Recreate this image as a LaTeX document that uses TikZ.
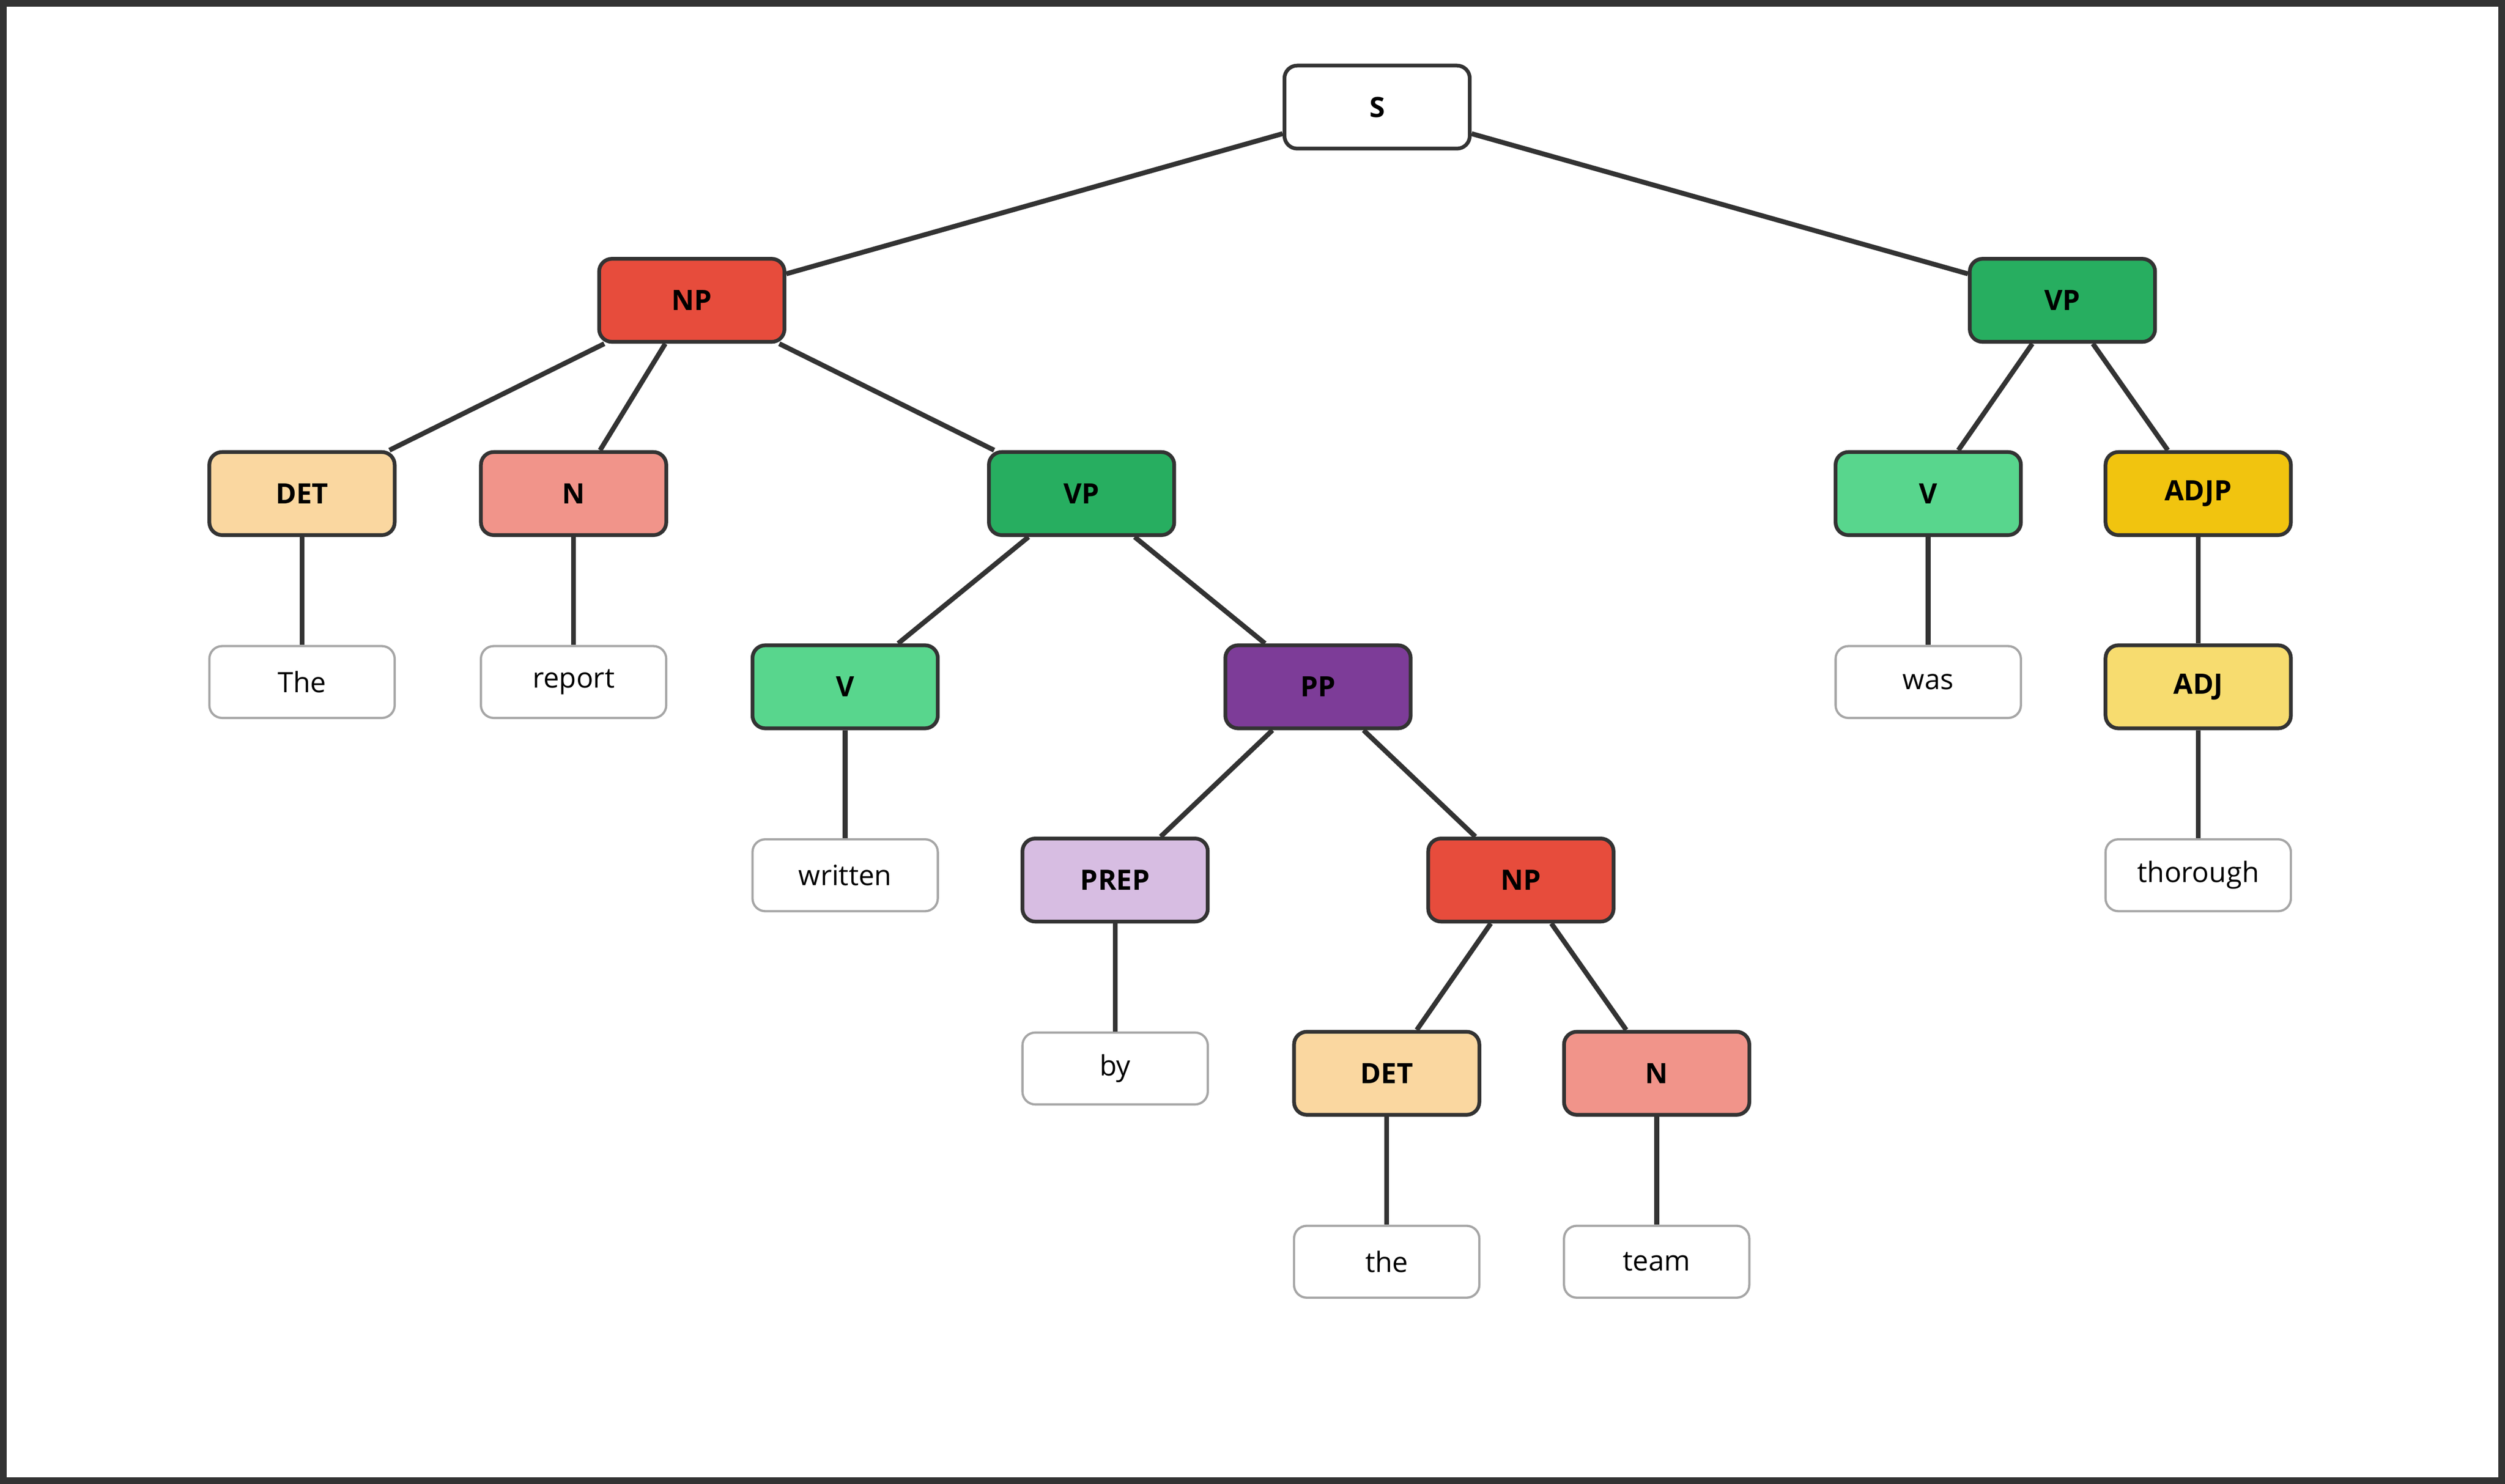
\documentclass[tikz,border=0pt]{standalone}
\usepackage{fontspec}
\setmainfont{Open Sans}
\definecolor{npred}{HTML}{E74C3C}
\definecolor{vpgreen}{HTML}{27AE60}
\definecolor{vgreen}{HTML}{58D68D}
\definecolor{detorange}{HTML}{FAD7A0}
\definecolor{npink}{HTML}{F1948A}
\definecolor{pppurple}{HTML}{7D3C98}
\definecolor{preplilac}{HTML}{D7BDE2}
\definecolor{adjpyellow}{HTML}{F1C40F}
\definecolor{adjyellow}{HTML}{F7DC6F}
\definecolor{edgegray}{HTML}{333333}
\tikzset{
  cat/.style={draw=edgegray,line width=2pt,rounded corners=0.24cm,minimum width=3.48cm,minimum height=1.56cm,font=\fontsize{15}{18}\selectfont\bfseries,text=black},
  word/.style={draw=black!35,line width=1.2pt,fill=white,rounded corners=0.24cm,minimum width=3.48cm,minimum height=1.35cm,font=\fontsize{15}{18}\selectfont,text=black},
  link/.style={draw=edgegray,line width=2.6pt}
}
\begin{document}
\begin{tikzpicture}[x=0.03cm,y=-0.03cm]
          \draw [edgegray,line width=3.5pt,fill=white] (2,2) rectangle (1566,927);
          \node [cat,fill=white] (s) at (862,67) {S};
          \node [cat,fill=npred] (np) at (433,188) {NP};
          \node [cat,fill=vpgreen] (vp) at (1291,188) {VP};
          \node [cat,fill=detorange] (det) at (189,309) {DET};
          \node [cat,fill=npink] (n) at (359,309) {N};
          \node [cat,fill=vpgreen] (vp2) at (677,309) {VP};
          \node [cat,fill=vgreen] (v) at (1207,309) {V};
          \node [cat,fill=adjpyellow] (adjp) at (1376,309) {ADJP};
          \node [word] (the) at (189,427) {The};
          \node [word] (report) at (359,427) {report};
          \node [cat,fill=vgreen] (v2) at (529,430) {V};
          \node [cat,fill=pppurple] (pp) at (825,430) {PP};
          \node [word] (was) at (1207,427) {was};
          \node [cat,fill=adjyellow] (adj) at (1376,430) {ADJ};
          \node [word] (written) at (529,548) {written};
          \node [cat,fill=preplilac] (prep) at (698,551) {PREP};
          \node [cat,fill=npred] (np2) at (952,551) {NP};
          \node [word] (thorough) at (1376,548) {thorough};
          \node [word] (by) at (698,669) {by};
          \node [cat,fill=detorange] (det2) at (868,672) {DET};
          \node [cat,fill=npink] (n2) at (1037,672) {N};
          \node [word] (the2) at (868,790) {the};
          \node [word] (team) at (1037,790) {team};
          \draw [link] (s) -- (np);
          \draw [link] (s) -- (vp);
          \draw [link] (np) -- (det);
          \draw [link] (np) -- (n);
          \draw [link] (np) -- (vp2);
          \draw [link] (vp) -- (v);
          \draw [link] (vp) -- (adjp);
          \draw [link] (det) -- (the);
          \draw [link] (n) -- (report);
          \draw [link] (vp2) -- (v2);
          \draw [link] (vp2) -- (pp);
          \draw [link] (v) -- (was);
          \draw [link] (adjp) -- (adj);
          \draw [link] (v2) -- (written);
          \draw [link] (pp) -- (prep);
          \draw [link] (pp) -- (np2);
          \draw [link] (adj) -- (thorough);
          \draw [link] (prep) -- (by);
          \draw [link] (np2) -- (det2);
          \draw [link] (np2) -- (n2);
          \draw [link] (det2) -- (the2);
          \draw [link] (n2) -- (team);
        \end{tikzpicture}
\end{document}
